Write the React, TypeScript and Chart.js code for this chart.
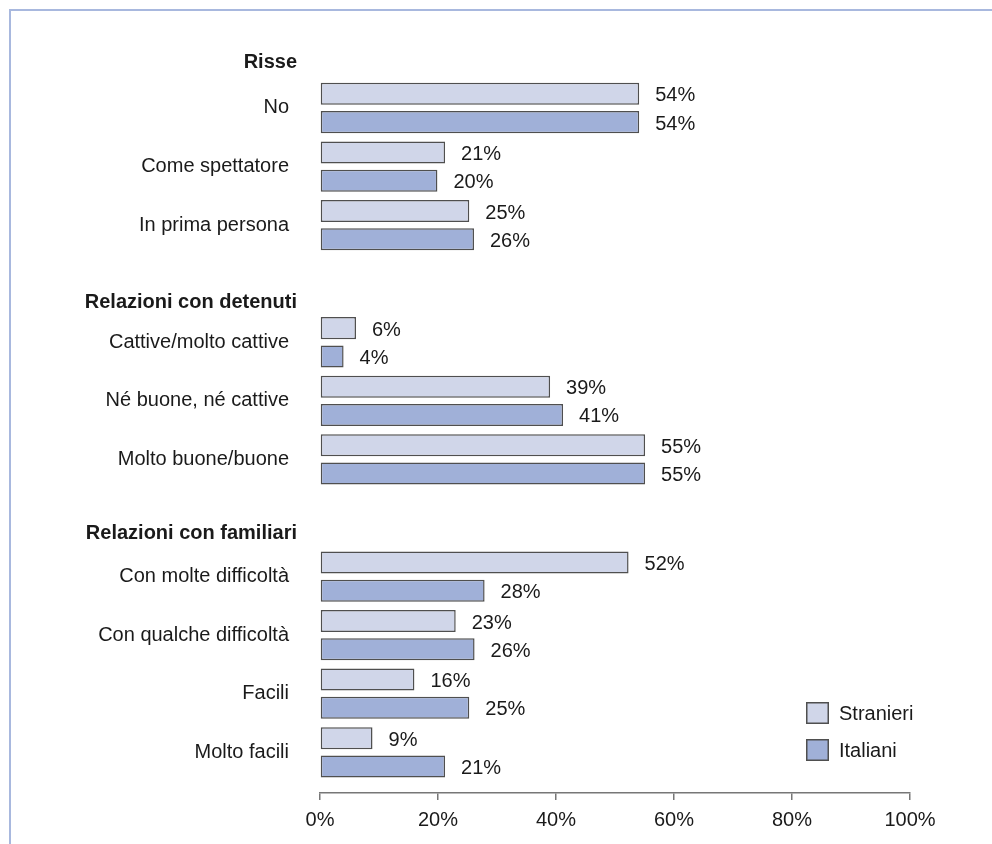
import React, { useEffect, useRef } from 'react';
import { Chart, registerables } from 'chart.js';

Chart.register(...registerables);

// ---- data ----
const groupTitles = ['Risse', 'Relazioni con detenuti', 'Relazioni con familiari'];
const categories = [
  'No',
  'Come spettatore',
  'In prima persona',
  'Cattive/molto cattive',
  'Né buone, né cattive',
  'Molto buone/buone',
  'Con molte difficoltà',
  'Con qualche difficoltà',
  'Facili',
  'Molto facili',
];
const categoryGroup = [0, 0, 0, 1, 1, 1, 2, 2, 2, 2];
const seriesNames = ['Stranieri', 'Italiani'];
const stranieri = [54.1, 21.2, 25.3, 6.1, 39.0, 55.1, 52.3, 23.0, 16.0, 8.9];
const italiani = [54.1, 19.9, 26.1, 4.0, 41.2, 55.1, 27.9, 26.2, 25.3, 21.2];
const xTicks = [0, 20, 40, 60, 80, 100];

// ---- layout / style ----
const FONT = "'Liberation Sans', Arial, Helvetica, sans-serif";
const TEXT = '#1a1a1a';
const COLORS = ['#d0d6e9', '#a0b0d8'];
const BAR_BORDER = '#4f4f4f';
const HEADER_SHIFT = [0.215, 0.329, 0.256];
const Y_MIN = -0.246;
const Y_MAX = 12.695;

const slotOf = categories.map((_, i) => i + categoryGroup[i] + 1);
const headerSlot = groupTitles.map((_, g) => slotOf[categoryGroup.indexOf(g)] - 1 + HEADER_SHIFT[g]);
const labelBySlot: Record<number, string> = {};
slotOf.forEach((s, i) => { labelBySlot[s] = categories[i]; });

const decor = {
  id: 'decor',
  beforeDraw(chart: any) {
    const ctx = chart.ctx;
    ctx.save();
    ctx.strokeStyle = '#a8b8de';
    ctx.lineWidth = 2;
    ctx.beginPath();
    ctx.moveTo(10, chart.height);
    ctx.lineTo(10, 10);
    ctx.lineTo(chart.width, 10);
    ctx.stroke();
    ctx.restore();
  },
  afterDraw(chart: any) {
    const ctx = chart.ctx;
    const yScale = chart.scales.y;
    const area = chart.chartArea;
    ctx.save();
    // group headers
    ctx.font = `bold 20px ${FONT}`;
    ctx.fillStyle = TEXT;
    ctx.textAlign = 'right';
    ctx.textBaseline = 'middle';
    groupTitles.forEach((t, g) => {
      ctx.fillText(t, area.left - 23, yScale.getPixelForValue(headerSlot[g]));
    });
    // value labels
    ctx.font = `20px ${FONT}`;
    ctx.textAlign = 'left';
    chart.data.datasets.forEach((ds: any, di: number) => {
      const meta = chart.getDatasetMeta(di);
      meta.data.forEach((bar: any, i: number) => {
        ctx.fillText(Math.round(ds.data[i].x) + '%', bar.x + 16, bar.y + 2);
      });
    });
    // legend
    chart.data.datasets.forEach((ds: any, di: number) => {
      const top = 702 + di * 37;
      ctx.fillStyle = ds.backgroundColor;
      ctx.fillRect(806, top, 23, 22);
      ctx.strokeStyle = BAR_BORDER;
      ctx.lineWidth = 1.5;
      ctx.strokeRect(806.75, top + 0.75, 21.5, 20.5);
      ctx.fillStyle = TEXT;
      ctx.fillText(ds.label, 839, top + 12);
    });
    ctx.restore();
  },
};

export default function App() {
  const ref = useRef<HTMLCanvasElement>(null);
  useEffect(() => {
    if (!ref.current) return;
    const series = [stranieri, italiani];
    const chart = new Chart(ref.current, {
      type: 'bar',
      data: {
        datasets: series.map((vals, di) => ({
          label: seriesNames[di],
          data: vals.map((v, i) => ({ x: v, y: slotOf[i] })),
          backgroundColor: COLORS[di],
          borderColor: BAR_BORDER,
          borderWidth: 1.5,
          borderSkipped: false,
          categoryPercentage: 0.965,
          barPercentage: 0.78,
        })),
      },
      options: {
        indexAxis: 'y',
        responsive: false,
        animation: false,
        layout: { padding: { top: 35, right: 82, bottom: 0, left: 0 } },
        plugins: { legend: { display: false }, tooltip: { enabled: false } },
        scales: {
          y: {
            type: 'linear',
            reverse: true,
            offset: false,
            min: Y_MIN,
            max: Y_MAX,
            bounds: 'data',
            grid: { display: false, offset: false },
            border: { display: false },
            afterBuildTicks: (scale: any) => {
              scale.ticks = slotOf.map((v) => ({ value: v }));
            },
            afterFit: (scale: any) => {
              scale.width = 320;
            },
            ticks: {
              autoSkip: false,
              padding: 23,
              color: TEXT,
              font: { family: FONT, size: 20 },
              callback: (v: any) => labelBySlot[v] ?? '',
            },
          },
          x: {
            type: 'linear',
            min: 0,
            max: 100,
            bounds: 'data',
            afterBuildTicks: (scale: any) => {
              scale.ticks = xTicks.map((v) => ({ value: v }));
            },
            afterFit: (scale: any) => {
              scale.height = 51;
            },
            grid: {
              drawOnChartArea: false,
              drawTicks: true,
              tickLength: 7,
              color: '#777777',
              lineWidth: 1.5,
            },
            border: { display: true, color: '#777777', width: 1.5 },
            ticks: {
              autoSkip: false,
              padding: 8,
              maxRotation: 0,
              color: TEXT,
              font: { family: FONT, size: 20 },
              callback: (v: any) => v + '%',
            },
          },
        },
      },
      plugins: [decor],
    } as any);
    return () => chart.destroy();
  }, []);
  return (
    <div style={{ position: 'absolute', left: 0, top: 0, width: 992, height: 844, background: '#fff' }}>
      <canvas ref={ref} width={992} height={844} style={{ display: 'block' }} />
    </div>
  );
}
